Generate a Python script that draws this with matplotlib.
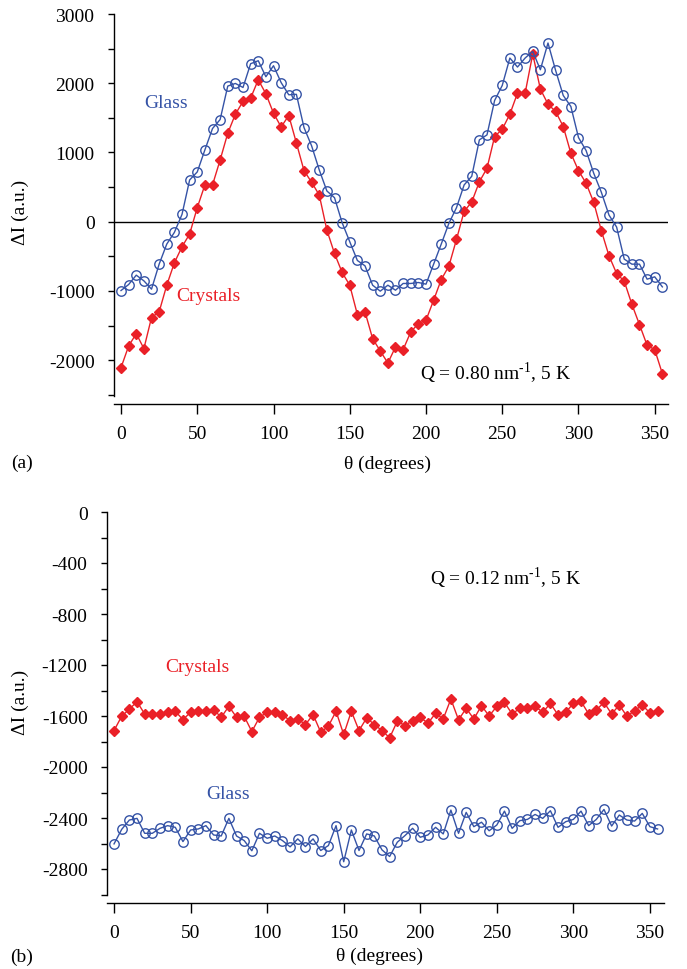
import numpy as np
import matplotlib.pyplot as plt
from matplotlib.ticker import MultipleLocator

plt.rcParams['font.family'] = ['Liberation Serif', 'DejaVu Serif']
plt.rcParams['mathtext.fontset'] = 'custom'
plt.rcParams['mathtext.rm'] = 'Liberation Serif'
plt.rcParams['axes.unicode_minus'] = False

# angles, every 5 degrees
theta = np.arange(0, 360, 5)

# (a) Q = 0.80 nm^-1
glass_a = [-994, -907, -772, -854, -974, -613, -323, -154, 106, 603,
           719, 1037, 1346, 1476, 1959, 1997, 1939, 2282, 2325, 2094,
           2253, 2010, 1833, 1840, 1360, 1095, 748, 444, 347, -14,
           -289, -560, -637, -917, -1003, -917, -989, -892, -892, -878,
           -902, -613, -323, -24, 203, 531, 656, 1182, 1254, 1751,
           1968, 2364, 2234, 2364, 2460, 2195, 2581, 2185, 1823, 1664,
           1216, 1027, 699, 425, 96, -77, -540, -613, -613, -830,
           -796, -941]
cryst_a = [-2108, -1795, -1616, -1833, -1384, -1302, -917, -593, -362, -178,
           203, 531, 531, 892, 1278, 1553, 1737, 1785, 2050, 1848,
           1568, 1368, 1534, 1138, 738, 569, 386, -121, -458, -733,
           -917, -1341, -1302, -1688, -1867, -2041, -1809, -1848, -1592, -1471,
           -1423, -1134, -835, -642, -256, 150, 285, 577, 772, 1230,
           1336, 1553, 1857, 1857, 2422, 1915, 1698, 1592, 1375, 989,
           738, 555, 280, -130, -492, -748, -859, -1192, -1486, -1785,
           -1848, -2195]

# (b) Q = 0.12 nm^-1
glass_b = [-2603, -2489, -2416, -2403, -2520, -2520, -2481, -2460, -2473, -2585,
           -2494, -2486, -2460, -2533, -2541, -2403, -2541, -2577, -2657, -2520,
           -2559, -2541, -2577, -2626, -2564, -2624, -2564, -2655, -2616, -2460,
           -2743, -2494, -2655, -2525, -2541, -2650, -2702, -2590, -2538, -2481,
           -2551, -2533, -2473, -2525, -2338, -2520, -2356, -2468, -2433, -2500,
           -2455, -2346, -2481, -2421, -2411, -2372, -2403, -2343, -2473, -2429,
           -2411, -2346, -2460, -2411, -2333, -2463, -2377, -2416, -2424, -2364,
           -2468, -2486]
cryst_b = [-1714, -1602, -1546, -1488, -1584, -1584, -1584, -1571, -1563, -1628,
           -1571, -1563, -1563, -1550, -1610, -1524, -1610, -1602, -1722, -1610,
           -1571, -1571, -1589, -1638, -1623, -1667, -1589, -1727, -1680, -1563,
           -1745, -1563, -1714, -1615, -1667, -1714, -1771, -1641, -1675, -1636,
           -1610, -1657, -1579, -1623, -1467, -1630, -1540, -1623, -1519, -1600,
           -1524, -1493, -1584, -1540, -1540, -1524, -1571, -1501, -1592, -1571,
           -1501, -1485, -1584, -1553, -1493, -1584, -1514, -1602, -1558, -1514,
           -1576, -1563]

blue = '#3553a6'
red = '#ea2027'

fig = plt.figure(figsize=(6.87, 9.70), dpi=100)
W, H = 687.0, 970.0

def make_axes(l, r, t, b):
    return fig.add_axes([l / W, 1 - b / H, (r - l) / W, (b - t) / H])

def style(ax):
    for s in ['top', 'right']:
        ax.spines[s].set_visible(False)
    ax.spines['bottom'].set_position(('outward', 6))
    ax.spines['left'].set_linewidth(1.0)
    ax.spines['bottom'].set_linewidth(1.0)
    ax.tick_params(axis='x', direction='out', length=7, width=1, labelsize=14, pad=8)
    ax.tick_params(axis='y', which='both', direction='out', length=4, width=1,
                   labelsize=14, pad=10)
    ax.xaxis.set_major_locator(MultipleLocator(50))

# panel (a)
ax1 = make_axes(114, 668, 15, 396.5)
style(ax1)
ax1.axhline(0, color='black', lw=1.0, zorder=1)
ax1.plot(theta, glass_a, '-o', color=blue, mfc='none', mec=blue, ms=6.8, mew=1.0, lw=1.0, zorder=3)
ax1.plot(theta, cryst_a, '-D', color=red, mfc=red, mec=red, ms=5.3, lw=1.0, zorder=2)
ax1.set_xlim(-4.6, 358.7)
ax1.set_ylim(-2510, 3000)
ax1.yaxis.set_minor_locator(MultipleLocator(500))
ax1.set_yticks(np.arange(-2000, 3001, 1000))
ax1.text(0.094, 0.769, 'Glass', transform=ax1.transAxes, color=blue, fontsize=14, ha='center', va='center')
ax1.text(0.170, 0.261, 'Crystals', transform=ax1.transAxes, color=red, fontsize=14, ha='center', va='center')
ax1.text(0.688, 0.06, 'Q = 0.80 nm$^{\\mathregular{\u20101}}$, 5 K', transform=ax1.transAxes,
         fontsize=14, ha='center', va='center')

# panel (b)
ax2 = make_axes(107, 664, 513, 895.5)
style(ax2)
ax2.plot(theta, glass_b, '-o', color=blue, mfc='none', mec=blue, ms=6.8, mew=1.0, lw=1.0, zorder=3)
ax2.plot(theta, cryst_b, '-D', color=red, mfc=red, mec=red, ms=5.3, lw=1.0, zorder=2)
ax2.set_xlim(-4.6, 359.2)
ax2.set_ylim(-3000, 0)
ax2.yaxis.set_minor_locator(MultipleLocator(200))
ax2.set_yticks(np.arange(-2800, 1, 400))
ax2.text(0.715, 0.83, 'Q = 0.12 nm$^{\\mathregular{\u20101}}$, 5 K', transform=ax2.transAxes,
         fontsize=14, ha='center', va='center')
ax2.text(0.162, 0.595, 'Crystals', transform=ax2.transAxes, color=red, fontsize=14, ha='center', va='center')
ax2.text(0.217, 0.263, 'Glass', transform=ax2.transAxes, color=blue, fontsize=14, ha='center', va='center')

# labels
fig.text(20 / W, 1 - 212 / H, 'ΔI (a.u.)', rotation=90, fontsize=14, ha='center', va='center')
fig.text(20 / W, 1 - 702 / H, 'ΔI (a.u.)', rotation=90, fontsize=14, ha='center', va='center')
fig.text(387 / W, 1 - 464 / H, 'θ (degrees)', fontsize=14, ha='center', va='center')
fig.text(380 / W, 1 - 956 / H, 'θ (degrees)', fontsize=14, ha='center', va='center')
fig.text(22 / W, 1 - 463 / H, '(a)', fontsize=14, ha='center', va='center')
fig.text(22 / W, 1 - 957 / H, '(b)', fontsize=14, ha='center', va='center')

fig.savefig('out.png', dpi=100)
